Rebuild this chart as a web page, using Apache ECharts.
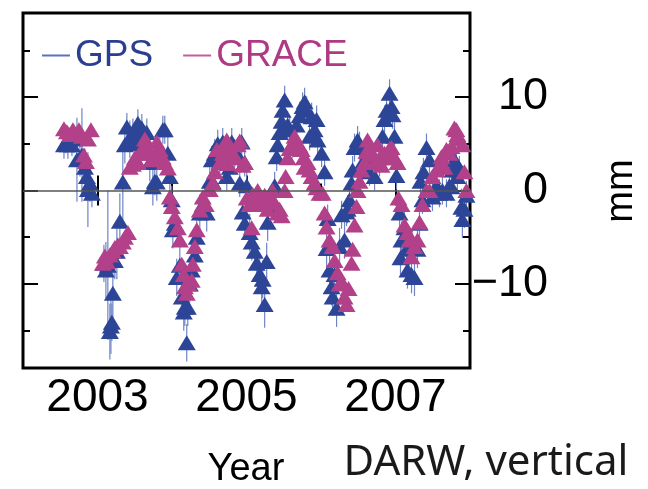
<!DOCTYPE html>
<html><head><meta charset="utf-8">
<script src="https://cdn.jsdelivr.net/npm/echarts@6/dist/echarts.min.js"></script>
<style>html,body{margin:0;padding:0;background:#fff}#c{width:648px;height:489px}</style>
</head><body><div id="c"></div>
<script>
// GPS vertical displacement (mm) at decimal years, with error (mm)
const gpsYear = [
2002.550,2002.576,2002.603,2002.657,2002.684,2002.724,2002.764,2002.791,2002.831,2002.858,2002.871,2002.898,2002.925,
2003.086,2003.113,2003.139,2003.166,2003.180,2003.193,2003.206,2003.233,2003.260,2003.300,2003.340,
2003.367,2003.394,2003.434,2003.475,2003.515,2003.542,2003.568,2003.595,2003.635,2003.662,2003.702,2003.743,2003.769,2003.796,2003.836,2003.877,2003.903,2003.944,2003.971,
2003.997,2004.011,2004.038,2004.064,2004.105,2004.131,2004.158,2004.172,2004.198,2004.212,2004.239,2004.265,2004.306,2004.332,2004.373,2004.413,2004.466,2004.507,2004.547,
2004.534,2004.574,2004.614,2004.641,2004.681,2004.708,2004.735,2004.775,2004.802,2004.842,2004.882,2004.909,2004.936,2004.976,2005.003,
2004.949,2004.976,2005.043,2005.070,2005.110,2005.137,2005.177,2005.204,2005.217,2005.244,2005.271,2005.284,2005.338,2005.378,
2005.405,2005.418,2005.445,2005.472,2005.485,2005.512,2005.552,2005.579,2005.619,2005.673,2005.713,2005.753,2005.780,2005.807,2005.847,2005.874,2005.914,2005.941,2005.954,2006.008,2006.048,
2006.075,2006.089,2006.115,2006.142,2006.156,2006.182,2006.209,2006.249,2006.276,2006.316,2006.343,2006.357,2006.383,
2006.410,2006.424,2006.450,2006.491,2006.517,2006.558,2006.611,2006.651,2006.719,2006.786,2006.826,2006.853,2006.880,2006.920,2006.947,2006.960,2006.987,2007.013,
2007.054,2007.067,2007.081,2007.121,2007.148,2007.161,2007.188,2007.215,2007.255,2007.295,2007.322,2007.362,
2007.335,2007.375,2007.416,2007.456,2007.496,2007.550,2007.590,2007.630,2007.684,2007.724,2007.751,2007.764,2007.791,2007.818,2007.831,2007.858,2007.885,2007.898,2007.925,2007.952
];
const gpsMm = [
4.9,5.2,4.9,4.9,5.5,3.3,3.5,3.8,2.5,1.5,0.1,0.8,-0.3,
-7.8,-8.5,-8.0,-15.1,-14.5,-14.1,-11.0,-7.5,-6.5,-3.3,0.9,
4.9,6.8,5.5,6.2,5.0,7.2,6.0,6.7,5.5,6.2,3.0,0.4,1.0,0.9,4.5,6.5,6.5,4.0,1.5,
-1.0,-4.2,-3.5,-9.3,-8.0,-11.4,-13.0,-12.5,-16.3,-12.5,-10.0,-8.5,-6.9,-5.0,-2.4,-1.5,-2.4,1.0,0.9,
3.3,4.0,5.0,3.0,5.2,4.0,1.5,2.5,5.2,4.0,3.8,0.8,5.2,3.0,0.5,
-2.3,-3.5,-4.5,-5.5,-6.5,-7.8,-9.0,-10.3,-9.5,-12.2,-7.6,-3.4,-1.5,0.5,
3.6,4.9,6.2,7.4,8.6,9.7,7.0,6.5,5.0,7.0,8.0,9.0,9.5,8.6,5.8,7.9,6.5,7.6,5.4,4.0,2.0,
-6.2,-3.0,-8.5,-10.3,-11.4,-9.0,-12.6,-6.0,-2.6,-5.3,-2.3,-2.0,-1.0,
0.8,2.2,4.6,5.4,4.8,3.0,3.3,2.0,1.5,3.0,5.8,7.6,8.6,10.4,9.0,8.1,5.8,1.6,
-2.4,-7.2,-5.3,-4.0,-6.3,-8.5,-6.0,-9.0,-9.3,-6.3,-3.5,-1.0,
1.0,2.0,4.6,3.3,-0.7,0.5,-0.3,0.0,-0.3,0.5,0.4,2.2,3.3,2.9,1.5,2.2,-1.8,-3.1,-2.0,-0.5
];
const gpsErr = [
1.5,1.2,1.5,1.2,1.5,4.5,2,5,2,2,4,2,1.5,
2,3,8,3,3,2,3,2,3,3,4,
2,1.5,2,1.5,2,1.5,1.5,1.5,1.5,1.5,2,2,1.5,2,1.5,1.5,1.5,2,1.5,
1.5,2,1.5,2,2,2,2,2,2,2,2,2,2,2,2,1.5,2,1.5,1.5,
1.5,1.5,1.5,1.5,1.5,1.5,1.5,1.5,1.5,1.5,1.5,1.5,1.5,1.5,1.5,
1.5,1.5,2,2,2,2,2,2,2,2.5,2,2,1.5,1.5,
1.5,1.5,1.5,1.5,1.5,1.5,1.5,1.5,1.5,1.5,1.5,1.5,1.5,1.5,1.5,1.5,1.5,1.5,1.5,1.5,1.5,
2,1.5,2,2,2,2,2,2,1.5,2,1.5,1.5,1.5,
1.5,1.5,1.5,1.5,1.5,1.5,1.5,1.5,1.5,1.5,1.5,1.5,1.5,1.5,1.5,1.5,1.5,1.5,
2,2,2,2,2,2,2,2,2,2,2,1.5,
1.5,1.5,1.5,1.5,1.5,1.5,1.5,1.5,1.5,1.5,1.5,1.5,1.5,1.5,1.5,1.5,2,2,2,1.5
];
// GRACE vertical displacement (mm)
const graceYear = [
2002.550,2002.590,2002.630,2002.670,2002.710,2002.751,2002.791,2002.818,2002.845,2002.871,2002.912,
2003.072,2003.099,2003.126,2003.166,2003.206,2003.233,2003.273,2003.300,2003.340,2003.367,2003.408,
2003.434,2003.475,2003.501,2003.542,2003.568,2003.609,2003.635,2003.662,2003.702,2003.729,2003.769,2003.796,2003.836,2003.877,2003.903,2003.944,2003.971,
2003.997,2004.038,2004.078,2004.105,2004.131,2004.158,2004.172,2004.198,2004.225,2004.265,2004.279,2004.306,2004.332,2004.373,2004.413,2004.453,2004.507,2004.547,
2004.574,2004.601,2004.641,2004.681,2004.708,2004.735,2004.748,2004.775,2004.815,2004.842,2004.882,2004.909,2004.949,2004.976,
2005.003,2005.043,2005.070,2005.083,2005.110,2005.150,2005.177,2005.204,2005.244,2005.284,2005.311,2005.351,2005.378,2005.418,2005.445,2005.472,2005.512,
2005.525,2005.552,2005.579,2005.606,2005.646,2005.673,2005.713,2005.740,2005.767,2005.780,2005.820,2005.847,2005.874,2005.914,2005.941,2005.981,2006.022,2006.048,
2006.075,2006.115,2006.156,2006.182,2006.223,2006.249,2006.290,2006.316,2006.343,2006.370,2006.410,2006.424,2006.450,2006.477,2006.491,
2006.517,2006.544,2006.584,2006.611,2006.625,2006.651,2006.692,2006.719,2006.759,2006.786,2006.812,2006.853,2006.893,2006.920,2006.947,2006.987,2007.027,
2007.040,2007.081,2007.121,2007.161,2007.188,2007.215,2007.255,2007.295,2007.322,2007.362,2007.416,2007.456,
2007.496,2007.550,2007.590,2007.617,2007.657,2007.684,2007.724,2007.751,2007.791,2007.818,2007.831,2007.858,2007.898,2007.925,2007.952
];
const graceMm = [
6.6,6.3,6.0,6.5,6.0,6.5,5.8,3.8,3.1,5.5,6.5,
-7.8,-7.0,-7.6,-6.9,-6.5,-6.1,-5.8,-6.0,-5.5,-5.0,-4.5,
2.5,2.8,3.5,3.0,4.0,4.6,5.5,5.2,4.0,3.3,4.0,5.2,4.4,3.5,3.0,2.4,-0.7,
-1.7,-2.8,-4.0,-5.3,-7.9,-9.0,-10.3,-11.0,-10.0,-9.6,-7.9,-6.0,-4.2,-2.1,-0.7,-1.5,0.1,0.8,
2.0,4.4,3.0,4.0,5.0,5.4,2.9,4.5,3.5,3.7,4.9,5.3,2.7,3.0,
-0.8,-1.5,-4.0,-0.4,-1.0,0.0,-1.5,-0.8,-0.5,-2.0,-1.0,0.0,-1.3,-2.4,-2.0,-2.7,0.0,
1.5,3.5,4.5,4.9,5.8,5.0,4.8,4.4,3.5,2.5,3.0,2.2,1.5,0.8,0.3,-0.3,-0.3,-2.4,
-3.9,-5.3,-6.0,-7.5,-8.8,-10.0,-9.9,-11.4,-12.2,-10.5,-7.8,-6.3,-3.7,-1.7,0.0,
1.0,2.2,3.0,4.2,5.4,4.5,3.8,3.0,4.9,3.5,2.7,4.0,3.5,4.5,4.6,3.5,3.0,
-0.8,-1.5,-3.7,-4.5,-5.3,-7.1,-6.0,-5.3,-3.4,-1.5,0.0,0.0,
1.5,2.2,2.5,3.6,2.5,4.4,4.0,4.7,6.7,6.5,6.0,5.5,4.9,2.0,0.0
];
const xTickLabels = [2003, 2005, 2007];
const xMinorTicks = [2002, 2004, 2006, 2008];
const yMajorTicks = [-10, 0, 10];
const yMinorTicks = [-15, -5, 5, 15];

const GPS_COLOR = '#2d4597';
const GRACE_COLOR = '#b2418a';
const FONT = 'Liberation Sans, Arial, Helvetica, sans-serif';

const gpsData = gpsYear.map((t, i) => [t, gpsMm[i], gpsErr[i]]);
const graceData = graceYear.map((t, i) => [t, graceMm[i]]);

function xAx(pos, ticks, len, labels) {
  return {
    type: 'value', min: 2002, max: 2008, position: pos,
    axisLine: {show: false}, splitLine: {show: false},
    axisTick: {show: true, inside: true, length: len, customValues: ticks,
               lineStyle: {color: '#000', width: 2}},
    axisLabel: labels ? {show: true, customValues: labels, fontSize: 46, color: '#000',
               fontFamily: FONT, margin: 7, formatter: v => String(v)} : {show: false}
  };
}
function yAx(pos, ticks, len, labels) {
  return {
    type: 'value', min: -19, max: 19, position: pos, offset: 0,
    axisLine: {show: false}, splitLine: {show: false},
    axisTick: {show: true, inside: true, length: len, customValues: ticks,
               lineStyle: {color: '#000', width: 2}},
    axisLabel: labels ? {show: true, customValues: labels, fontSize: 45, color: '#000',
               fontFamily: FONT, align: 'right', margin: 78,
               formatter: v => (v < 0 ? '\u2212' + Math.abs(v) : String(v))} : {show: false}
  };
}

const chart = echarts.init(document.getElementById('c'), null, {renderer: 'canvas'});
chart.setOption({
  animation: false,
  backgroundColor: '#fff',
  grid: {left: 23, right: 178, top: 13, bottom: 121, show: true, borderColor: '#000',
         borderWidth: 3, backgroundColor: 'transparent', containLabel: false, outerBoundsMode: 'none'},
  xAxis: [
    xAx('bottom', xMinorTicks, 7, xTickLabels),
    xAx('bottom', xTickLabels, 15, null),
    xAx('top', xMinorTicks, 7, null),
    xAx('top', xTickLabels, 15, null)
  ],
  yAxis: [
    yAx('left', yMinorTicks, 7, null),
    yAx('left', yMajorTicks, 15, null),
    yAx('right', yMinorTicks, 7, null),
    yAx('right', yMajorTicks, 15, yMajorTicks)
  ],
  legend: {
    left: 37, top: 32, itemGap: 30, itemWidth: 28, itemHeight: 2, icon: 'rect',
    textStyle: {fontSize: 37, fontFamily: FONT},
    data: [
      {name: 'GPS', itemStyle: {color: '#5b72bb'}, textStyle: {color: '#2b3f90'}},
      {name: 'GRACE', itemStyle: {color: '#c0609a'}, textStyle: {color: '#ae3a84'}}
    ]
  },
  series: [
    {
      name: 'GPS err', type: 'custom', xAxisIndex: 0, yAxisIndex: 0, clip: true, z: 1,
      data: gpsData,
      renderItem: function (params, api) {
        const x = api.value(0), y = api.value(1), e = api.value(2);
        const p1 = api.coord([x, y - e]), p2 = api.coord([x, y + e]);
        return {type: 'line', shape: {x1: p1[0], y1: p1[1], x2: p2[0], y2: p2[1]},
                style: {stroke: '#6f84c6', lineWidth: 1.2}};
      },
      markLine: {silent: true, symbol: 'none', label: {show: false},
                 lineStyle: {color: '#555', width: 1.5, type: 'solid'},
                 data: [{yAxis: 0}]}
    },
    {
      name: 'GPS', type: 'scatter', xAxisIndex: 0, yAxisIndex: 0, z: 2,
      symbol: 'triangle', symbolSize: [18, 15], data: gpsData.map(d => [d[0], d[1]]),
      itemStyle: {color: GPS_COLOR, opacity: 1}
    },
    {
      name: 'GRACE', type: 'scatter', xAxisIndex: 0, yAxisIndex: 0, z: 3,
      symbol: 'triangle', symbolSize: [18, 15], data: graceData,
      itemStyle: {color: GRACE_COLOR, opacity: 1}
    }
  ],
  graphic: [
    {type: 'text', x: 622, y: 191, rotation: Math.PI / 2,
     style: {text: 'mm', fontSize: 38, fontFamily: FONT, fill: '#000', align: 'center', verticalAlign: 'middle'}},
    {type: 'text', x: 246, y: 470,
     style: {text: 'Year', fontSize: 38, fontFamily: FONT, fill: '#000', align: 'center', verticalAlign: 'middle'}},
    {type: 'text', x: 486, y: 463,
     style: {text: 'DARW, vertical', fontSize: 42, fontFamily: 'Noto Sans, Open Sans, sans-serif', fill: '#1a1a1a', align: 'center', verticalAlign: 'middle'}}
  ]
});
</script></body></html>
